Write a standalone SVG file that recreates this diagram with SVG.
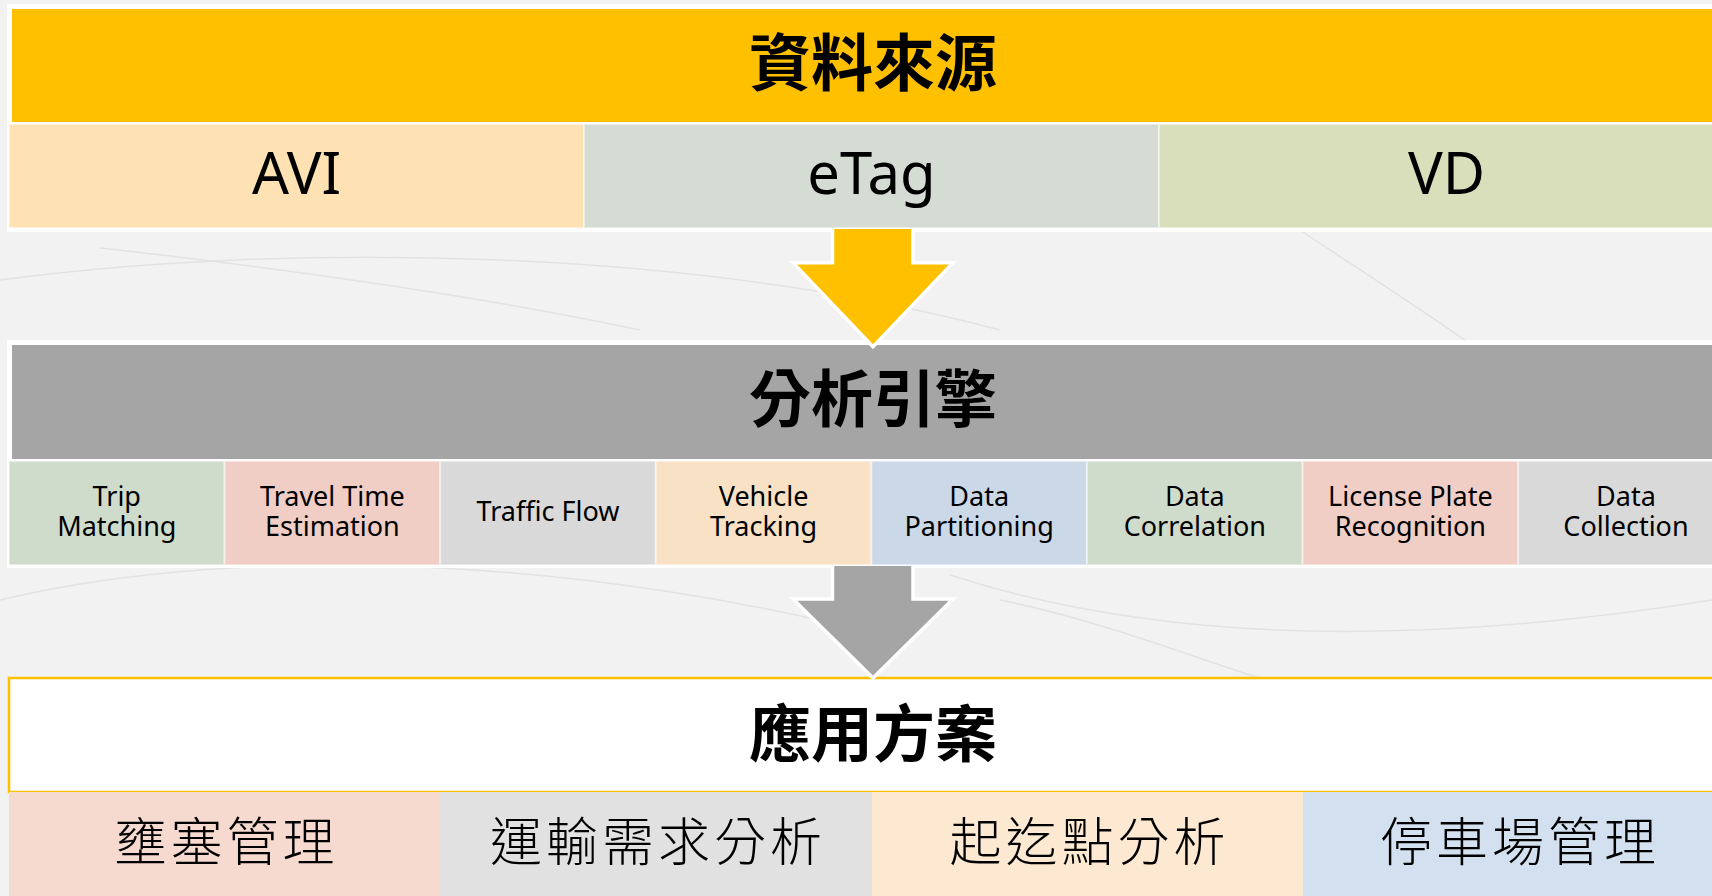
<svg xmlns="http://www.w3.org/2000/svg" width="1712" height="896" viewBox="0 0 1712 896">
<style>
.bg{fill:#f2f2f2}
.deco{fill:none;stroke:#e2e2e2;stroke-width:1.5}
.frame{fill:#ffffff}
.cjkh{font-family:"Noto Sans CJK TC","Noto Sans CJK SC",sans-serif;font-weight:700;font-size:62px;fill:#000;text-anchor:middle}
.cjk{font-family:"Noto Sans CJK TC","Noto Sans CJK SC",sans-serif;font-weight:300;font-size:52px;letter-spacing:4px;fill:#000;text-anchor:middle}
.src{font-family:"Noto Sans","Open Sans",sans-serif;font-size:58px;fill:#000;text-anchor:middle}
.eng{font-family:"Noto Sans","Open Sans",sans-serif;font-size:27px;fill:#000;text-anchor:middle}
.sub{stroke:#ffffff;stroke-opacity:0.45;stroke-width:2}
.arrow{stroke:#ffffff;stroke-width:3.5;stroke-linejoin:miter}
</style>
<rect class="bg" x="0" y="0" width="1712" height="896"/>
<g id="background">
<path class="deco" d="M0,280 C300,240 700,250 1000,330"/>
<path class="deco" d="M0,600 C250,540 600,560 900,640"/>
<path class="deco" d="M1300,230 C1450,330 1600,420 1712,560"/>
<path class="deco" d="M950,575 C1150,640 1400,650 1712,600"/>
<path class="deco" d="M100,248 C300,270 500,300 640,330"/>
<path class="deco" d="M1000,600 C1100,620 1200,660 1260,678"/>
</g>

<g id="data-sources">
<rect class="frame" x="7" y="4" width="1730" height="228"/>
<rect x="10" y="7" width="1724" height="117" fill="#ffc000" stroke="#ffffff" stroke-width="4"/>
<text class="cjkh" x="873" y="86">資料來源</text>
</g>
<g id="src-avi">
<rect class="sub" x="9" y="124" width="575" height="104" fill="#ffe2b4"/>
<text class="src" x="296.5" y="194">AVI</text>
</g>
<g id="src-etag">
<rect class="sub" x="584" y="124" width="575" height="104" fill="#d4dcd4"/>
<text class="src" x="871.5" y="194">eTag</text>
</g>
<g id="src-vd">
<rect class="sub" x="1159" y="124" width="575" height="104" fill="#d8dfba"/>
<text class="src" x="1446.5" y="194">VD</text>
</g>

<g id="analysis-engine">
<rect class="frame" x="7" y="340" width="1730" height="228"/>
<rect x="10" y="343" width="1724" height="118" fill="#a5a5a5" stroke="#ffffff" stroke-width="4"/>
<text class="cjkh" x="873" y="422">分析引擎</text>
</g>
<g id="eng-trip">
<rect class="sub" x="9" y="461" width="215.6" height="104" fill="#d0dccb"/>
<text class="eng" x="116.8" y="506">Trip</text>
<text class="eng" x="116.8" y="536">Matching</text>
</g>
<g id="eng-travel">
<rect class="sub" x="224.6" y="461" width="215.6" height="104" fill="#f0cec5"/>
<text class="eng" x="332.4" y="506">Travel Time</text>
<text class="eng" x="332.4" y="536">Estimation</text>
</g>
<g id="eng-flow">
<rect class="sub" x="440.2" y="461" width="215.6" height="104" fill="#d9d9d9"/>
<text class="eng" x="548" y="521">Traffic Flow</text>
</g>
<g id="eng-vehicle">
<rect class="sub" x="655.8" y="461" width="215.6" height="104" fill="#f8e1c5"/>
<text class="eng" x="763.6" y="506">Vehicle</text>
<text class="eng" x="763.6" y="536">Tracking</text>
</g>
<g id="eng-partition">
<rect class="sub" x="871.4" y="461" width="215.6" height="104" fill="#cbd8e7"/>
<text class="eng" x="979.2" y="506">Data</text>
<text class="eng" x="979.2" y="536">Partitioning</text>
</g>
<g id="eng-correlation">
<rect class="sub" x="1087" y="461" width="215.6" height="104" fill="#d0dccb"/>
<text class="eng" x="1194.8" y="506">Data</text>
<text class="eng" x="1194.8" y="536">Correlation</text>
</g>
<g id="eng-lpr">
<rect class="sub" x="1302.6" y="461" width="215.6" height="104" fill="#f0cec5"/>
<text class="eng" x="1410.4" y="506">License Plate</text>
<text class="eng" x="1410.4" y="536">Recognition</text>
</g>
<g id="eng-collection">
<rect class="sub" x="1518.2" y="461" width="215.6" height="104" fill="#d9d9d9"/>
<text class="eng" x="1626" y="506">Data</text>
<text class="eng" x="1626" y="536">Collection</text>
</g>

<g id="applications">
<rect x="9" y="678" width="1725" height="114" fill="#ffffff" stroke="#ffc000" stroke-width="2.5"/>
<text class="cjkh" x="873" y="757">應用方案</text>
</g>
<g id="app-congestion">
<rect x="9" y="792" width="431" height="104" fill="#f6d9cf"/>
<text class="cjk" x="226.5" y="861">壅塞管理</text>
</g>
<g id="app-demand">
<rect x="440" y="792" width="432" height="104" fill="#e1e1e1"/>
<text class="cjk" x="658" y="861">運輸需求分析</text>
</g>
<g id="app-od">
<rect x="872" y="792" width="431" height="104" fill="#fde8d1"/>
<text class="cjk" x="1089.5" y="861">起迄點分析</text>
</g>
<g id="app-parking">
<rect x="1303" y="792" width="431" height="104" fill="#d3e0ef"/>
<text class="cjk" x="1520" y="861">停車場管理</text>
</g>

<g id="connectors">
<path class="arrow" d="M832.5,229 V262.7 H793 L873,346.7 L953,262.7 H913 V229" fill="#ffc000"/>
<path class="arrow" d="M832.5,566 V599 H793 L873,678 L953,599 H913 V566" fill="#a5a5a5"/>
</g>
</svg>
